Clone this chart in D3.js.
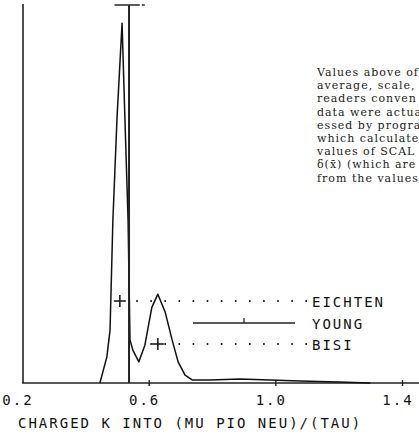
<!DOCTYPE html>
<html>
<head>
<meta charset="utf-8">
<script src="https://cdn.jsdelivr.net/npm/d3@7"></script>
<style>
  html, body { margin: 0; padding: 0; background: #fff; overflow: hidden; }
  svg { display: block; }
  .plot { font-family: "DejaVu Sans Mono", monospace; font-size: 14px; fill: #111; letter-spacing: 2px; }
  .note { font-family: "DejaVu Serif", serif; font-size: 11px; fill: #222; letter-spacing: 1px; }
</style>
</head>
<body>
<div id="chart"></div>
<script>
'use strict';

var WIDTH = 419,
    HEIGHT = 435,
    X0 = 22, X1 = 402,
    Y_BASE = 383, Y_TOP = 5;

// spectrum (mass in GeV, arbitrary height)
var massValues = [0.446, 0.468, 0.478, 0.487, 0.500, 0.516, 0.525, 0.535, 0.541, 0.550, 0.569,
                  0.588, 0.610, 0.629, 0.652, 0.674, 0.693, 0.715, 0.737, 0.794, 0.888, 0.983,
                  1.078, 1.200, 1.300];
var heightValues = [0, 6.9, 14, 43, 70, 95.2, 70, 43, 11.4, 8.7, 5.6,
                    10, 20, 23.5, 18.8, 11.4, 5.6, 2.1, 0.8, 0.8, 1.05, 0.8,
                    0.5, 0.25, 0];

var tickValues = [0.2, 0.6, 1.0, 1.4];
var tickLabels = ["0.2", "0.6", "1.0", "1.4"];
var xTitle = "CHARGED K INTO (MU PIO NEU)/(TAU)";

// young measurement: vertical line with cap
var youngX = 0.538, youngErr = [0.492, 0.572], youngTop = 100;

var legendNames = ["EICHTEN", "YOUNG", "BISI"];
var legendMarkX = [0.509, null, 0.629];
var legendRowY = [301, 323, 344];

var noteLines = ["Values above of", "average, scale,", "readers conven", "data were actua",
                 "essed by progra", "which calculate", "values of SCAL",
                 "\u03b4(x\u0304) (which are", "from the values"];

var x = d3.scaleLinear().domain([0.2, 1.4]).range([X0, X1]);
var y = d3.scaleLinear().domain([0, 100]).range([Y_BASE, Y_TOP]);

var svg = d3.select("#chart").append("svg")
    .attr("width", WIDTH)
    .attr("height", HEIGHT);

// left axis line
svg.append("line")
    .attr("x1", X0 + 1).attr("x2", X0 + 1)
    .attr("y1", y(100) - 1).attr("y2", Y_BASE)
    .attr("stroke", "#222").attr("stroke-width", 1.6);

// bottom axis
var xAxis = d3.axisBottom(x).tickValues(tickValues).tickSize(0).tickFormat("");
var gx = svg.append("g").attr("transform", "translate(0," + Y_BASE + ")").call(xAxis);
gx.select(".domain").remove();
gx.append("line").attr("x1", X0).attr("x2", WIDTH)
    .attr("stroke", "#222").attr("stroke-width", 1.4);
gx.selectAll(".tick line").attr("y1", -3).attr("y2", 3).attr("stroke", "#222").attr("stroke-width", 1.4);
gx.selectAll(".tick").filter(function (d) { return d === 0.2; }).select("line").remove();

svg.append("g").selectAll("text")
    .data(tickValues)
    .enter().append("text")
    .attr("class", "plot")
    .attr("x", function (d) { return x(d) - 4; })
    .attr("y", 405)
    .attr("text-anchor", "middle")
    .text(function (d, i) { return tickLabels[i]; });

svg.append("text")
    .attr("class", "plot")
    .attr("x", 18).attr("y", 428)
    .text(xTitle);

// spectrum curve
var line = d3.line()
    .x(function (d) { return x(d[0]); })
    .y(function (d) { return y(d[1]); });

svg.append("path")
    .datum(d3.zip(massValues, heightValues))
    .attr("d", line)
    .attr("fill", "none")
    .attr("stroke", "#111")
    .attr("stroke-width", 1.5)
    .attr("stroke-linejoin", "round");

// young vertical line and cap
svg.append("line")
    .attr("x1", x(youngX)).attr("x2", x(youngX))
    .attr("y1", y(youngTop)).attr("y2", Y_BASE)
    .attr("stroke", "#222").attr("stroke-width", 2);
svg.append("line")
    .attr("x1", x(youngErr[0])).attr("x2", x(youngErr[1]))
    .attr("y1", y(youngTop)).attr("y2", y(youngTop))
    .attr("stroke", "#333").attr("stroke-width", 1.6);
svg.append("line")
    .attr("x1", x(youngErr[1]) + 2).attr("x2", x(youngErr[1]) + 5)
    .attr("y1", y(youngTop)).attr("y2", y(youngTop))
    .attr("stroke", "#333").attr("stroke-width", 1.6);

// legend rows
var LEG_END = 307;
legendNames.forEach(function (name, i) {
    var ry = legendRowY[i];
    if (legendMarkX[i] !== null) {
        var cx = x(legendMarkX[i]);
        svg.append("path")
            .attr("d", "M" + (cx - 6) + "," + ry + "H" + (cx + 6) + "M" + cx + "," + (ry - 6) + "V" + (ry + 6))
            .attr("stroke", "#111").attr("stroke-width", 1.5);
        svg.append("line")
            .attr("x1", LEG_END).attr("x2", i === 0 ? 129 : 146)
            .attr("y1", ry).attr("y2", ry)
            .attr("stroke", "#222").attr("stroke-width", 1.8)
            .attr("stroke-dasharray", "1.6,12.5");
    } else {
        svg.append("line")
            .attr("x1", 193).attr("x2", 295)
            .attr("y1", ry).attr("y2", ry)
            .attr("stroke", "#222").attr("stroke-width", 1.5);
        svg.append("line")
            .attr("x1", 244).attr("x2", 244)
            .attr("y1", ry - 5).attr("y2", ry)
            .attr("stroke", "#222").attr("stroke-width", 1.3);
    }
    svg.append("text")
        .attr("class", "plot")
        .attr("x", 312).attr("y", ry + 5.5)
        .text(name);
});

// overlaid note text (cut off at right edge)
svg.append("g").selectAll("text")
    .data(noteLines)
    .enter().append("text")
    .attr("class", "note")
    .attr("x", 317)
    .attr("y", function (d, i) { return 76 + i * 13.2; })
    .text(function (d) { return d; });
</script>
</body>
</html>
